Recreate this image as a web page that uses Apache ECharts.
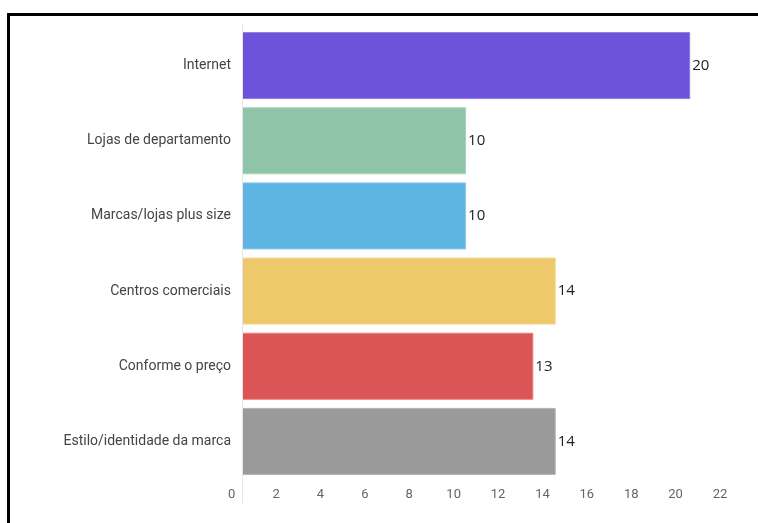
<!DOCTYPE html>
<html>
<head>
<meta charset="utf-8">
<script src="https://cdn.jsdelivr.net/npm/echarts@6/dist/echarts.min.js"></script>
<style>
  html, body { margin: 0; padding: 0; background: #fff; }
  #chart { width: 758px; height: 523px; }
</style>
</head>
<body>
<div id="chart"></div>
<script>
// Sources people use to shop for clothes
const categories = [
  'Internet',
  'Lojas de departamento',
  'Marcas/lojas plus size',
  'Centros comerciais',
  'Conforme o preço',
  'Estilo/identidade da marca'
];
const values = [20, 10, 10, 14, 13, 14];
const barColors = ['#6c53d9', '#8fc4a8', '#5eb5e4', '#eec96b', '#db5456', '#9a9a9a'];
const barEdges = ['#8f7ce3', '#a9d2bc', '#86c8ec', '#f3d891', '#e47d7f', '#b3b3b3'];
const tickValues = [0, 2, 4, 6, 8, 10, 12, 14, 16, 18, 20, 22];

const chart = echarts.init(document.getElementById('chart'), null, { renderer: 'canvas' });

const FONT = 'Roboto, "Noto Sans", sans-serif';

chart.setOption({
  animation: false,
  backgroundColor: '#ffffff',
  grid: [
    { left: 242, right: 23, top: 28, height: 451, containLabel: false },
    { left: 231.7, right: 38, top: 28, height: 451, containLabel: false }
  ],
  xAxis: [
    {
      gridIndex: 0,
      type: 'value',
      min: 0,
      max: 22,
      interval: 2,
      axisLine: { show: false },
      axisTick: { show: false },
      splitLine: { show: false },
      axisLabel: { show: false }
    },
    {
      gridIndex: 1,
      type: 'value',
      min: tickValues[0],
      max: tickValues[tickValues.length - 1],
      interval: 2,
      axisLine: { show: false },
      axisTick: { show: false },
      splitLine: { show: false },
      axisLabel: {
        show: true,
        margin: 9,
        color: '#666666',
        fontFamily: FONT,
        fontSize: 13
      }
    }
  ],
  yAxis: [
    {
      gridIndex: 0,
      type: 'category',
      data: categories,
      inverse: true,
      axisLine: { show: false },
      axisTick: { show: false },
      splitLine: { show: false },
      axisLabel: {
        margin: 11,
        color: '#444444',
        fontFamily: FONT,
        fontSize: 14
      }
    },
    {
      gridIndex: 1,
      type: 'category',
      data: categories,
      inverse: true,
      show: false
    }
  ],
  series: [
    {
      type: 'bar',
      xAxisIndex: 0,
      yAxisIndex: 0,
      barWidth: 67,
      data: values.map((v, i) => ({
        value: v,
        itemStyle: { color: barColors[i], borderColor: barEdges[i], borderWidth: 1 }
      })),
      label: {
        show: true,
        position: 'right',
        distance: 2,
        color: '#222222',
        fontFamily: '"Open Sans", Roboto, sans-serif',
        fontSize: 15
      }
    }
  ],
  graphic: [
    {
      type: 'line',
      silent: true,
      z: 10,
      shape: { x1: 242.5, y1: 24, x2: 242.5, y2: 503 },
      style: { stroke: '#e6e6e6', lineWidth: 1 }
    },
    {
      type: 'rect',
      silent: true,
      z: 20,
      shape: { x: 8.5, y: 14.5, width: 800, height: 600 },
      style: { fill: 'none', stroke: '#000000', lineWidth: 3 }
    }
  ]
});
</script>
</body>
</html>
